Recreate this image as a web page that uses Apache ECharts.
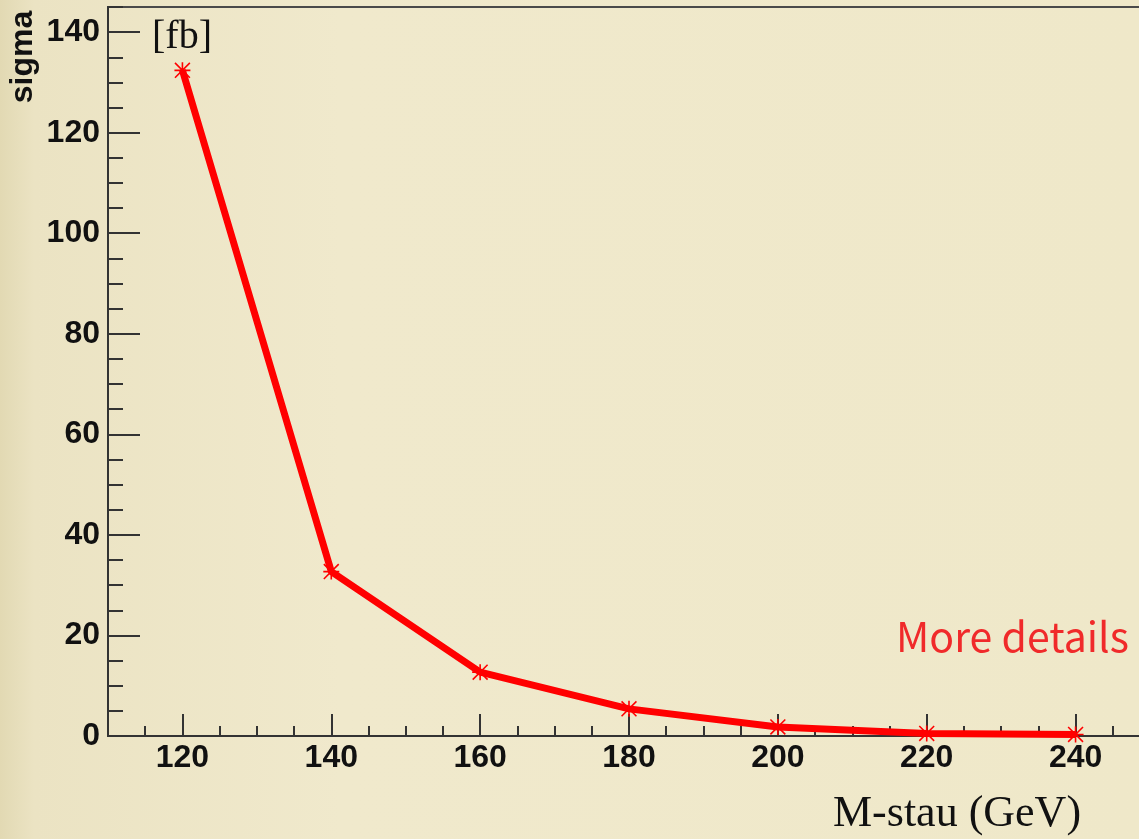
<!DOCTYPE html>
<html>
<head>
<meta charset="utf-8">
<script src="https://cdn.jsdelivr.net/npm/echarts@6/dist/echarts.min.js"></script>
<style>
html,body{margin:0;padding:0;}
#chart{width:1139px;height:839px;}
</style>
</head>
<body>
<div id="chart"></div>
<script>
// Data
const massValues = [120, 140, 160, 180, 200, 220, 240];          // M-stau (GeV)
const sigmaValues = [132.4, 32.7, 12.7, 5.4, 1.8, 0.5, 0.3];       // sigma [fb]
const xTickLabels = [120, 140, 160, 180, 200, 220, 240];
const yTickLabels = [0, 20, 40, 60, 80, 100, 120, 140];

const seriesData = massValues.map((m, i) => [m, sigmaValues[i]]);

const asterisk = 'path://M0 9H20V11H0Z M9 0H11V20H9Z M0 1.4L1.4 0L20 18.6L18.6 20Z M18.6 0L20 1.4L1.4 20L0 18.6Z';

const axisColor = '#333333';
const labelFont = {fontFamily: '"Liberation Sans", Arial, sans-serif', fontWeight: 'bold', fontSize: 32, color: '#111111'};

const chart = echarts.init(document.getElementById('chart'), null, {renderer: 'canvas'});
chart.setOption({
  animation: false,
  backgroundColor: {
    type: 'linear', x: 0, y: 0, x2: 1, y2: 0,
    colorStops: [
      {offset: 0, color: '#e2d9b3'},
      {offset: 0.03, color: '#ebe3c3'},
      {offset: 0.3, color: '#f0e9cc'},
      {offset: 1, color: '#efe8c9'}
    ]
  },
  grid: {
    left: 108, top: 7, width: 1042, height: 729,
    show: true, borderColor: '#4a4a4a', borderWidth: 2,
    backgroundColor: 'transparent',
    containLabel: false, outerBoundsMode: 'none'
  },
  xAxis: [
    {
      type: 'value', min: 110, max: 250, interval: 10,
      axisLine: {show: true, lineStyle: {color: axisColor, width: 2}},
      axisTick: {show: true, inside: true, length: 22, lineStyle: {color: axisColor, width: 2}, customValues: xTickLabels},
      axisLabel: Object.assign({margin: 6, customValues: xTickLabels}, labelFont),
      splitLine: {show: false}
    },
    {
      type: 'value', min: 110, max: 250, interval: 5, position: 'bottom',
      axisLine: {show: false},
      axisTick: {show: true, inside: true, length: 10, lineStyle: {color: axisColor, width: 2}},
      axisLabel: {show: false},
      splitLine: {show: false}
    }
  ],
  yAxis: [
    {
      type: 'value', min: 0, max: 145, interval: 20,
      axisLine: {show: true, lineStyle: {color: axisColor, width: 2}},
      axisTick: {show: true, inside: true, length: 32, lineStyle: {color: axisColor, width: 2}, customValues: yTickLabels},
      axisLabel: Object.assign({margin: 8, customValues: yTickLabels}, labelFont),
      splitLine: {show: false}
    },
    {
      type: 'value', min: 0, max: 145, interval: 5, position: 'left',
      axisLine: {show: false},
      axisTick: {show: true, inside: true, length: 15, lineStyle: {color: axisColor, width: 2}},
      axisLabel: {show: false},
      splitLine: {show: false}
    }
  ],
  series: [{
    type: 'line',
    xAxisIndex: 0, yAxisIndex: 0,
    data: seriesData,
    lineStyle: {color: '#ff0000', width: 7},
    itemStyle: {color: '#ff0000'},
    symbol: asterisk,
    symbolSize: 16,
    showSymbol: true,
    z: 5
  }],
  graphic: [
    {
      type: 'text', x: 23, y: 57, rotation: Math.PI / 2,
      style: {text: 'sigma', fontFamily: '"Liberation Sans", Arial, sans-serif', fontWeight: 'bold', fontSize: 32, fill: '#111111', align: 'center', verticalAlign: 'middle'}
    },
    {
      type: 'text', x: 182, y: 37,
      style: {text: '[fb]', fontFamily: '"Liberation Serif", "Times New Roman", serif', fontSize: 40, fill: '#111111', align: 'center', verticalAlign: 'middle'}
    },
    {
      type: 'text', x: 896, y: 636,
      style: {text: 'More details', fontFamily: '"Noto Sans CJK JP", "Noto Sans", sans-serif', fontSize: 41, fill: '#f02a2a', align: 'left', verticalAlign: 'middle'}
    },
    {
      type: 'text', x: 833, y: 814,
      style: {text: 'M-stau (GeV)', fontFamily: '"Liberation Serif", "Times New Roman", serif', fontSize: 44, fill: '#111111', align: 'left', verticalAlign: 'middle'}
    }
  ]
});
</script>
</body>
</html>
